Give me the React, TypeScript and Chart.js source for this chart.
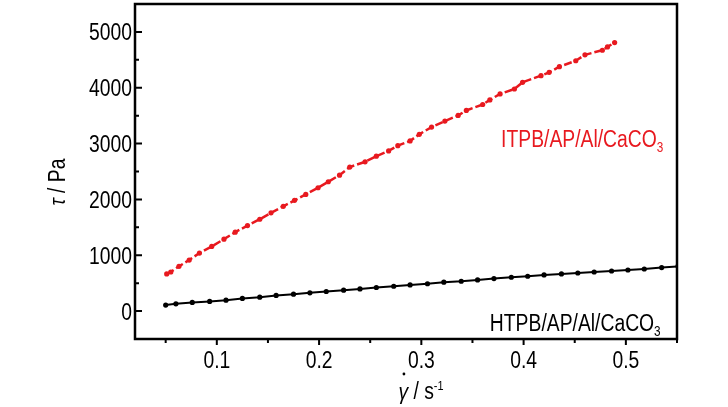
import React, { useEffect, useRef } from "react";
import { Chart, registerables } from "chart.js";

Chart.register(...registerables);

// HTPB/AP/Al/CaCO3 (black, solid)
const htpbRate = [0.05, 0.06, 0.076, 0.093, 0.109, 0.125, 0.142, 0.158, 0.175, 0.191, 0.207, 0.224, 0.24, 0.256, 0.273, 0.289, 0.306, 0.322, 0.339, 0.355, 0.371, 0.388, 0.404, 0.42, 0.437, 0.453, 0.469, 0.486, 0.502, 0.518, 0.535, 0.551];
const htpbStress = [107, 130, 155, 173, 196, 226, 249, 280, 303, 327, 351, 374, 397, 422, 445, 468, 490, 517, 534, 558, 583, 606, 624, 647, 665, 682, 700, 718, 736, 754, 779, 802];

// ITPB/AP/Al/CaCO3 (red, dashed)
const itpbRate = [0.051, 0.055, 0.063, 0.073, 0.083, 0.095, 0.107, 0.118, 0.13, 0.142, 0.153, 0.165, 0.176, 0.187, 0.199, 0.209, 0.22, 0.23, 0.245, 0.256, 0.268, 0.277, 0.289, 0.298, 0.31, 0.323, 0.336, 0.344, 0.36, 0.367, 0.377, 0.391, 0.399, 0.417, 0.425, 0.435, 0.451, 0.46, 0.477, 0.482, 0.489];
const itpbStress = [665, 700, 802, 914, 1039, 1158, 1288, 1413, 1532, 1645, 1759, 1876, 1983, 2090, 2209, 2316, 2435, 2580, 2673, 2774, 2868, 2963, 3047, 3166, 3296, 3403, 3504, 3593, 3700, 3782, 3889, 3978, 4098, 4217, 4276, 4377, 4484, 4590, 4672, 4732, 4810];

const xMajorTicks = [0.1, 0.2, 0.3, 0.4, 0.5];
const xMinorTicks = [0.05, 0.15, 0.25, 0.35, 0.45, 0.55];
const yMajorTicks = [0, 1000, 2000, 3000, 4000, 5000];
const yMinorTicks = [-500, 500, 1500, 2500, 3500, 4500];

const RED = "#e8191f";
const FAMILY = "'Liberation Sans', Arial, sans-serif";
// the original uses a narrow Arial; no narrow face is installed, so squeeze it
const NARROW = 0.84;

type Part = { text: string; size: number; italic?: boolean; dy?: number };

function fontOf(p: Part): string {
  return `${p.italic ? "italic " : ""}${p.size}px ${FAMILY}`;
}

function partsWidth(ctx: CanvasRenderingContext2D, parts: Part[]): number {
  let w = 0;
  for (const p of parts) {
    ctx.font = fontOf(p);
    w += ctx.measureText(p.text).width;
  }
  return w * NARROW;
}

// draws condensed rich text with its left end at x, baseline y; returns start x of every part
function drawParts(ctx: CanvasRenderingContext2D, parts: Part[], x: number, y: number): number[] {
  const starts: number[] = [];
  let cx = 0;
  ctx.save();
  ctx.translate(x, y);
  ctx.scale(NARROW, 1);
  ctx.textAlign = "left";
  ctx.textBaseline = "alphabetic";
  for (const p of parts) {
    ctx.font = fontOf(p);
    starts.push(x + cx * NARROW);
    ctx.fillText(p.text, cx, p.dy ?? 0);
    cx += ctx.measureText(p.text).width;
  }
  ctx.restore();
  return starts;
}

function drawCentered(ctx: CanvasRenderingContext2D, parts: Part[], cx: number, y: number): number[] {
  return drawParts(ctx, parts, cx - partsWidth(ctx, parts) / 2, y);
}

const framePlugin = {
  id: "frame",
  afterDatasetsDraw(chart: Chart) {
    const { ctx, chartArea: a } = chart;
    const xs = chart.scales.x;
    const ys = chart.scales.y;
    ctx.save();
    ctx.strokeStyle = "#000";
    ctx.lineWidth = 2.5;
    ctx.strokeRect(a.left, a.top, a.right - a.left, a.bottom - a.top);

    ctx.lineWidth = 2;
    ctx.beginPath();
    for (const v of yMajorTicks) {
      const py = ys.getPixelForValue(v);
      ctx.moveTo(a.left, py);
      ctx.lineTo(a.left + 7, py);
    }
    for (const v of yMinorTicks) {
      const py = ys.getPixelForValue(v);
      ctx.moveTo(a.left, py);
      ctx.lineTo(a.left + 4, py);
    }
    for (const v of xMajorTicks) {
      const px = xs.getPixelForValue(v);
      ctx.moveTo(px, a.bottom);
      ctx.lineTo(px, a.bottom + 6);
    }
    for (const v of xMinorTicks) {
      const px = xs.getPixelForValue(v);
      ctx.moveTo(px, a.bottom);
      ctx.lineTo(px, a.bottom + 4);
    }
    ctx.stroke();

    ctx.fillStyle = "#000";
    // tick labels
    for (const v of yMajorTicks) {
      const label: Part[] = [{ text: String(v), size: 23 }];
      const w = partsWidth(ctx, label);
      drawParts(ctx, label, a.left - 3 - w, ys.getPixelForValue(v) + 8.5);
    }
    for (const v of xMajorTicks) {
      drawCentered(ctx, [{ text: v.toFixed(1), size: 23 }], xs.getPixelForValue(v), a.bottom + 29);
    }

    // series labels
    ctx.fillStyle = RED;
    drawParts(
      ctx,
      [
        { text: "ITPB/AP/Al/CaCO", size: 23 },
        { text: "3", size: 14, dy: 5 },
      ],
      xs.getPixelForValue(0.378),
      ys.getPixelForValue(2940)
    );
    ctx.fillStyle = "#000";
    drawParts(
      ctx,
      [
        { text: "HTPB/AP/Al/CaCO", size: 23 },
        { text: "3", size: 14, dy: 5 },
      ],
      xs.getPixelForValue(0.367),
      ys.getPixelForValue(-356)
    );

    // x axis title
    const starts = drawCentered(
      ctx,
      [
        { text: "γ", size: 23, italic: true },
        { text: " / s", size: 23 },
        { text: "-1", size: 13, dy: -9 },
      ],
      421,
      399
    );
    ctx.beginPath();
    ctx.arc(starts[0] + 5.5, 374, 1.4, 0, Math.PI * 2);
    ctx.fill();

    // y axis title
    const yTitle: Part[] = [
      { text: "τ", size: 23, italic: true },
      { text: " / Pa", size: 23 },
    ];
    ctx.translate(57, 182);
    ctx.rotate(-Math.PI / 2);
    drawCentered(ctx, yTitle, 0, 8);
    ctx.restore();
  },
};

export default function App(): React.ReactElement {
  const canvasRef = useRef<HTMLCanvasElement | null>(null);

  useEffect(() => {
    if (!canvasRef.current) return;
    const chart = new Chart(canvasRef.current, {
      type: "scatter",
      data: {
        datasets: [
          {
            label: "ITPB/AP/Al/CaCO3",
            data: itpbRate.map((x, i) => ({ x, y: itpbStress[i] })),
            showLine: true,
            borderColor: RED,
            backgroundColor: RED,
            borderWidth: 2.5,
            borderDash: [8, 3],
            pointRadius: 2.6,
            pointBorderWidth: 0,
          },
          {
            label: "HTPB/AP/Al/CaCO3",
            data: htpbRate.map((x, i) => ({ x, y: htpbStress[i] })),
            showLine: true,
            borderColor: "#000",
            backgroundColor: "#000",
            borderWidth: 2,
            pointRadius: 2.6,
            pointBorderWidth: 0,
          },
        ],
      },
      options: {
        responsive: true,
        maintainAspectRatio: false,
        animation: false,
        layout: { padding: { top: 2, right: 51, left: 0, bottom: 0 } },
        plugins: { legend: { display: false }, tooltip: { enabled: false } },
        scales: {
          x: {
            type: "linear",
            min: 0.02,
            max: 0.55,
            grid: { display: false, drawTicks: false },
            border: { display: false },
            ticks: { display: false },
            afterFit: (s) => {
              s.height = 68;
              s.paddingLeft = 0;
              s.paddingRight = 0;
            },
          },
          y: {
            type: "linear",
            min: -500,
            max: 5500,
            grid: { display: false, drawTicks: false },
            border: { display: false },
            ticks: { display: false },
            afterFit: (s) => {
              s.width = 135;
              s.paddingTop = 0;
              s.paddingBottom = 0;
            },
          },
        },
      },
      plugins: [framePlugin],
    });
    return () => chart.destroy();
  }, []);

  return (
    <div style={{ position: "fixed", left: 0, top: 0, width: 728, height: 407, background: "#fff" }}>
      <canvas ref={canvasRef} />
    </div>
  );
}
